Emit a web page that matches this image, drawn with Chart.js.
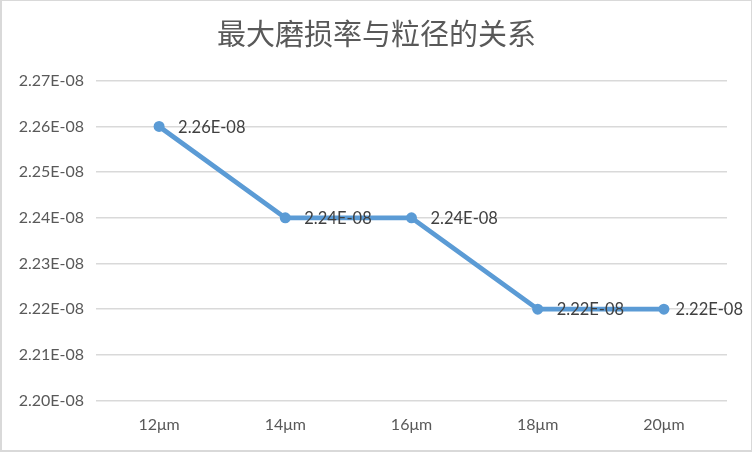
<!DOCTYPE html>
<html>
<head>
<meta charset="utf-8">
<script src="https://cdn.jsdelivr.net/npm/chart.js@4/dist/chart.umd.min.js"></script>
<style>
html,body{margin:0;padding:0;background:#fff;}
#wrap{position:relative;width:752px;height:452px;box-sizing:border-box;border:2px solid #d9d9d9;border-right-width:1px;border-top-width:1px;}
canvas{display:block;}
</style>
</head>
<body>
<div id="wrap"><canvas id="c"></canvas></div>
<script>
const titleText = '最大磨损率与粒径的关系';
const categories = ['12μm', '14μm', '16μm', '18μm', '20μm'];
const values = [2.26e-8, 2.24e-8, 2.24e-8, 2.22e-8, 2.22e-8];
const yMin = 2.20e-8, yMax = 2.27e-8, yStep = 0.01e-8;

function fmt(v) {
  const s = Number(v).toExponential(2).toUpperCase();
  return s.replace(/E([+-])(\d)$/, 'E$10$2');
}

const FONT = 'Lato, "Liberation Sans", sans-serif';

const labelPlugin = {
  id: 'valueLabels',
  afterDatasetsDraw(chart) {
    const ctx = chart.ctx;
    const meta = chart.getDatasetMeta(0);
    ctx.save();
    ctx.font = '16.5px ' + FONT;
    ctx.fillStyle = '#404040';
    ctx.textAlign = 'left';
    ctx.textBaseline = 'middle';
    meta.data.forEach((pt, i) => {
      const txt = fmt(values[i]);
      const w = ctx.measureText(txt).width;
      let x = pt.x + 19;
      const maxRight = chart.width - 8;
      if (x + w > maxRight) x = maxRight - w;
      ctx.fillText(txt, x, pt.y + 1);
    });
    ctx.restore();
  }
};

new Chart(document.getElementById('c'), {
  type: 'line',
  data: {
    labels: categories,
    datasets: [{
      data: values,
      borderColor: '#5B9BD5',
      backgroundColor: '#5B9BD5',
      borderWidth: 4.75,
      pointRadius: 5.5,
      pointHoverRadius: 5.5,
      pointBorderWidth: 0,
      tension: 0
    }]
  },
  options: {
    responsive: true,
    maintainAspectRatio: false,
    animation: false,
    layout: { padding: { left: 0, right: 0, top: 0, bottom: 0 } },
    plugins: {
      legend: { display: false },
      tooltip: { enabled: false },
      title: {
        display: true,
        text: titleText,
        color: '#595959',
        font: { family: '"Noto Sans CJK SC", sans-serif', size: 29, weight: 'normal' },
        padding: { top: 16, bottom: 29 }
      }
    },
    scales: {
      x: {
        offset: true,
        grid: { display: false, drawTicks: false },
        border: { display: false },
        ticks: { color: '#595959', font: { family: FONT, size: 16 }, padding: 15, maxRotation: 0 },
        afterFit(s) { s.height = 49.5; }
      },
      y: {
        min: yMin, max: yMax,
        grid: { color: '#d9d9d9', lineWidth: 1.5, drawTicks: false },
        border: { display: false },
        ticks: { stepSize: yStep, color: '#595959', font: { family: FONT, size: 16 }, padding: 12, callback: (v) => fmt(v) },
        afterFit(s) { s.width = 94; }
      },
      yr: {
        position: 'right',
        display: true,
        grid: { display: false, drawTicks: false },
        border: { display: false },
        ticks: { display: false },
        afterFit(s) { s.width = 24; }
      }
    }
  },
  plugins: [labelPlugin]
});
</script>
</body>
</html>
